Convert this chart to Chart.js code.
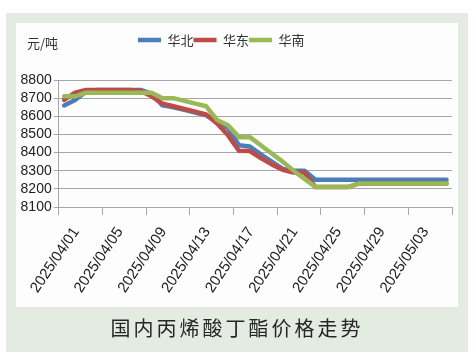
<!DOCTYPE html>
<html><head><meta charset="utf-8">
<script src="https://cdn.jsdelivr.net/npm/chart.js@4/dist/chart.umd.min.js"></script>
<style>html,body{margin:0;padding:0;background:#fff;}canvas{display:block;}</style>
</head><body>
<canvas id="c" width="474" height="359"></canvas>
<script>
const categories = ['2025/04/01','2025/04/02','2025/04/03','2025/04/04','2025/04/05','2025/04/06','2025/04/07','2025/04/08','2025/04/09','2025/04/10','2025/04/11','2025/04/12','2025/04/13','2025/04/14','2025/04/15','2025/04/16','2025/04/17','2025/04/18','2025/04/19','2025/04/20','2025/04/21','2025/04/22','2025/04/23','2025/04/24','2025/04/25','2025/04/26','2025/04/27','2025/04/28','2025/04/29','2025/04/30','2025/05/01','2025/05/02','2025/05/03','2025/05/04','2025/05/05','2025/05/06'];
const tickLabels = ['2025/04/01','2025/04/05','2025/04/09','2025/04/13','2025/04/17','2025/04/21','2025/04/25','2025/04/29','2025/05/03'];
const seriesNames = ['华北','华东','华南'];
const northValues = [8660,8690,8735,8745,8745,8745,8745,8745,8725,8660,8650,8635,8620,8605,8570,8535,8440,8433,8390,8350,8310,8300,8300,8250,8250,8250,8250,8250,8250,8250,8250,8250,8250,8250,8250,8250];
const eastValues  = [8690,8730,8745,8745,8745,8745,8745,8740,8710,8670,8655,8640,8625,8610,8560,8495,8410,8408,8370,8335,8305,8290,8290,8210,8210,8210,8210,8230,8230,8230,8230,8230,8230,8230,8230,8230];
const southValues = [8710,8710,8730,8730,8730,8730,8730,8730,8730,8700,8700,8685,8670,8655,8580,8550,8485,8485,8440,8395,8350,8300,8255,8210,8210,8210,8210,8230,8230,8230,8230,8230,8230,8230,8230,8230];
const yMin = 8100, yMax = 8800, yStep = 100;
const unitLabel = '元/吨';
const chartTitle = '国内丙烯酸丁酯价格走势';

const GRID = '#a6a6a6';
const colors = ['#4a7ebb','#be4b48','#98b954'];

const bgPlugin = {
  id: 'bg',
  beforeDraw(chart) {
    const c = chart.ctx; c.save();
    c.fillStyle = '#ffffff'; c.fillRect(0,0,474,359);
    c.fillStyle = '#e4ebe3'; c.fillRect(6,13,462,339);
    c.fillStyle = '#fdfdfd'; c.fillRect(16,23,442,284);
    c.restore();
    const t = chart.titleBlock;
    if (t && !t._ls) {
      const orig = t.draw;
      t.draw = function(a){ const cx = this.ctx; cx.save(); cx.letterSpacing = '3px'; cx.translate(3,0); orig.call(this,a); cx.restore(); };
      t._ls = true;
    }
  },
  afterLayout(chart) {
    const l = chart.legend;
    if (l) { l.left = 138; l.top = 45 - l.height/2; l.right = 474; }
  },
  afterDraw(chart) {
    const c = chart.ctx; c.save();
    c.font = '13px "Noto Sans CJK SC"'; c.fillStyle = '#333'; c.textBaseline = 'middle'; c.textAlign = 'left';
    c.fillText(unitLabel, 27, 43);
    c.restore();
  }
};

const ds = [northValues, eastValues, southValues].map((d,i)=>({
  label: seriesNames[i], data: d, borderColor: colors[i], backgroundColor: colors[i],
  borderWidth: 4.5, pointRadius: 0, tension: 0, borderJoinStyle: 'round', borderCapStyle: 'round',
  order: 3 - i, pointStyle: 'line'
}));

new Chart(document.getElementById('c'), {
  type: 'line',
  data: { labels: categories, datasets: ds },
  options: {
    responsive: false, animation: false, devicePixelRatio: 1,
    layout: { padding: { left: 16, right: 22, top: 57, bottom: 19 } },
    plugins: {
      tooltip: { enabled: false },
      legend: {
        position: 'top', align: 'start',
        labels: {
          usePointStyle: true, pointStyleWidth: 23, padding: 0,
          font: { family: '"Noto Sans CJK SC"', size: 13 }, color: '#333',
          sort: (a,b) => a.datasetIndex - b.datasetIndex
        }
      },
      title: {
        display: true, position: 'bottom', text: chartTitle, color: '#262626',
        font: { family: '"Noto Sans CJK SC"', size: 20, weight: 'normal' },
        padding: { top: 9, bottom: 0 }
      }
    },
    scales: {
      x: {
        offset: true,
        grid: { display: true, drawOnChartArea: false, offset: true, tickLength: 8,
          tickColor: (ctx) => (ctx.index === undefined || ctx.index % 4 === 0) ? GRID : 'rgba(0,0,0,0)' },
        border: { display: true, color: GRID },
        ticks: { autoSkip: false, minRotation: 56, maxRotation: 56, padding: 9, labelOffset: 12, color: '#222',
          font: { family: '"Liberation Sans Narrow", "Arial Narrow", sans-serif', size: 15 },
          callback: (v, i) => tickLabels.includes(categories[i]) ? categories[i] : '' },
        afterFit: (s) => { s.height = 100; }
      },
      y: {
        min: yMin, max: yMax,
        grid: { color: GRID, tickLength: 5, tickColor: GRID },
        border: { display: true, color: GRID },
        ticks: { stepSize: yStep, autoSkip: false, padding: 2, color: '#222',
          font: { family: '"Liberation Sans Narrow", "Arial Narrow", sans-serif', size: 14 },
          callback: (v) => String(v) },
        afterFit: (s) => { s.width = 42.7; }
      }
    }
  },
  plugins: [bgPlugin]
});
</script>
</body></html>
